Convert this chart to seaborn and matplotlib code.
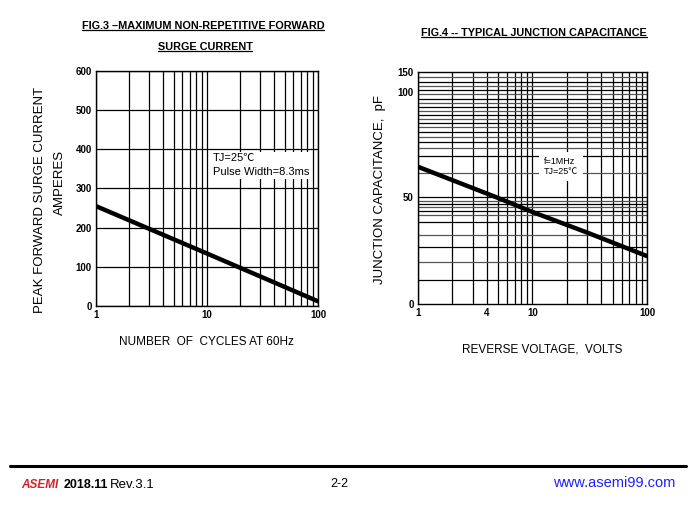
import numpy as np
import pandas as pd
import matplotlib
matplotlib.use("Agg")
import matplotlib.pyplot as plt
import matplotlib.ticker as mticker
from matplotlib.lines import Line2D
import seaborn as sns

# fig.3 - surge current vs number of cycles
cycles = [1, 10, 100]
surge_amps = [255, 134, 12]

# fig.4 - junction capacitance vs reverse voltage
volts = [1, 5, 10, 30, 100]
cap_pf = [64.4, 49.6, 43.0, 33.4, 22.4]

surge_yticks = [0, 100, 200, 300, 400, 500, 600]
cap_yticks = [0, 50, 100, 150]
cap_xticks = [1, 4, 10, 100]

sns.set_style("white")
plt.rcParams["font.family"] = ["Liberation Sans", "DejaVu Sans"]
plt.rcParams.update({"text.color": "black", "axes.labelcolor": "black",
                     "xtick.color": "black", "ytick.color": "black"})

df3 = pd.DataFrame({"cycles": cycles, "amps": surge_amps})
df4 = pd.DataFrame({"volts": volts, "pf": cap_pf})

fig = plt.figure(figsize=(6.99, 5.21), dpi=100)
ax1 = fig.add_axes([0.1373, 0.4127, 0.3176, 0.451])
ax2 = fig.add_axes([0.598, 0.4165, 0.3276, 0.4453])

# ---- left chart
sns.lineplot(data=df3, x="cycles", y="amps", ax=ax1, color="black", lw=3.2, zorder=5)
ax1.set_xscale("log")
ax1.set_xlim(1, 100)
ax1.set_ylim(0, 600)
ax1.set_yticks(surge_yticks)
ax1.xaxis.set_major_formatter(mticker.FuncFormatter(lambda v, p: f"{v:g}"))
ax1.xaxis.set_minor_locator(mticker.LogLocator(base=10, subs=np.arange(2, 10)))
ax1.xaxis.set_minor_formatter(mticker.NullFormatter())
ax1.grid(True, which="both", axis="x", color="black", lw=0.9)
ax1.grid(True, which="major", axis="y", color="black", lw=0.9)
ax1.set_xlabel("")
ax1.set_ylabel("")
ax1.text(10 ** 1.05, 390, "TJ=25\u2103\nPulse Width=8.3ms", fontsize=8, va="top",
         linespacing=1.5, family=["Liberation Sans", "Noto Sans CJK SC", "DejaVu Sans"],
         bbox=dict(facecolor="white", edgecolor="none", pad=1), zorder=6)

# ---- right chart (graph paper with non-uniform y rules)
data_pts = [0, 50, 100, 150]
paper_pts = [0, 0.461, 0.914, 1.0]
fwd = lambda v: np.interp(v, data_pts, paper_pts)
inv = lambda p: np.interp(p, paper_pts, data_pts)
ax2.set_yscale("function", functions=(fwd, inv))
sns.lineplot(data=df4, x="volts", y="pf", ax=ax2, color="black", lw=3.2, zorder=5)
ax2.set_xscale("log")
ax2.set_xlim(1, 100)
ax2.set_ylim(0, 150)
ax2.set_yticks(cap_yticks)
ax2.set_xticks(cap_xticks)
ax2.xaxis.set_major_formatter(mticker.FuncFormatter(lambda v, p: f"{v:g}"))
ax2.xaxis.set_minor_locator(mticker.LogLocator(base=10, subs=np.arange(2, 10)))
ax2.xaxis.set_minor_formatter(mticker.NullFormatter())
ax2.grid(True, which="both", axis="x", color="black", lw=0.9)
rules = [0.980, 0.958, 0.940, 0.922, 0.905, 0.885, 0.865, 0.848, 0.832, 0.815,
         0.797, 0.782, 0.763, 0.743, 0.721, 0.700, 0.671, 0.639, 0.566, 0.461,
         0.444, 0.431, 0.417, 0.401, 0.384, 0.355, 0.297, 0.244, 0.180, 0.103]
for i, r in enumerate(rules):
    ax2.axhline(inv(r), color="black" if i % 2 else "#555555", lw=0.9, zorder=1)
ax2.set_xlabel("")
ax2.set_ylabel("")
ax2.text(10 ** 1.1, inv(0.635), "f=1MHz\nTJ=25\u2103", fontsize=6.5, va="top",
         linespacing=1.2, family=["Liberation Sans", "Noto Sans CJK SC", "DejaVu Sans"],
         bbox=dict(facecolor="white", edgecolor="none", pad=3.5), zorder=6)

for ax in (ax1, ax2):
    for s in ax.spines.values():
        s.set_color("black")
        s.set_linewidth(1.0)
    ax.tick_params(which="both", length=0, labelsize=7, pad=3)
    for lab in ax.get_xticklabels() + ax.get_yticklabels():
        lab.set_fontweight("bold")

# axis titles
fig.text(40 / 699, 1 - 200 / 521, "PEAK FORWARD SURGE CURRENT", rotation=90,
         ha="center", va="center", fontsize=9.5)
fig.text(60 / 699, 1 - 182 / 521, "AMPERES", rotation=90, ha="center", va="center", fontsize=9.5)
fig.text(206 / 699, 1 - 342 / 521, "NUMBER  OF  CYCLES AT 60Hz", ha="center", va="center",
         fontsize=8.5)
fig.text(380 / 699, 1 - 189 / 521, "JUNCTION CAPACITANCE,  pF", rotation=90,
         ha="center", va="center", fontsize=9.5)
fig.text(542 / 699, 1 - 350 / 521, "REVERSE VOLTAGE,  VOLTS", ha="center", va="center",
         fontsize=8.5)

# underlined figure titles
titles = [
    fig.text(203 / 699, 1 - 26 / 521, "FIG.3 \u2013MAXIMUM NON-REPETITIVE FORWARD",
             ha="center", va="center", fontsize=7.8, fontweight="bold"),
    fig.text(205 / 699, 1 - 47 / 521, "SURGE CURRENT", ha="center", va="center",
             fontsize=7.8, fontweight="bold"),
    fig.text(534 / 699, 1 - 33 / 521, "FIG.4 -- TYPICAL JUNCTION CAPACITANCE",
             ha="center", va="center", fontsize=7.8, fontweight="bold"),
]
fig.canvas.draw()
inv_fig = fig.transFigure.inverted()
for t in titles:
    bb = t.get_window_extent()
    (x0, y0), (x1, _) = inv_fig.transform([(bb.x0, bb.y0 + 1), (bb.x1, bb.y0 + 1)])
    fig.add_artist(Line2D([x0, x1], [y0, y0], color="black", lw=0.9,
                          transform=fig.transFigure))

# footer
fig.add_artist(Line2D([10 / 699, 686 / 699], [1 - 466 / 521] * 2, color="black", lw=2.2,
                      transform=fig.transFigure))
fig.text(21 / 699, 1 - 485 / 521, "ASEMI", color="#d42027", fontsize=8.5, fontweight="bold",
         style="italic", va="center",
         family=["Liberation Sans Narrow", "Liberation Sans", "DejaVu Sans"])
fig.text(64 / 699, 1 - 485 / 521, "2018.11", fontsize=9, fontweight="bold", va="center")
fig.text(110 / 699, 1 - 485 / 521, "Rev.3.1", fontsize=9.5, va="center")
fig.text(339 / 699, 1 - 484 / 521, "2-2", fontsize=9, ha="center", va="center")
fig.text(675 / 699, 1 - 483 / 521, "www.asemi99.com", color="#1f1fff", fontsize=10.5,
         ha="right", va="center")

fig.savefig("out.png", dpi=100)
